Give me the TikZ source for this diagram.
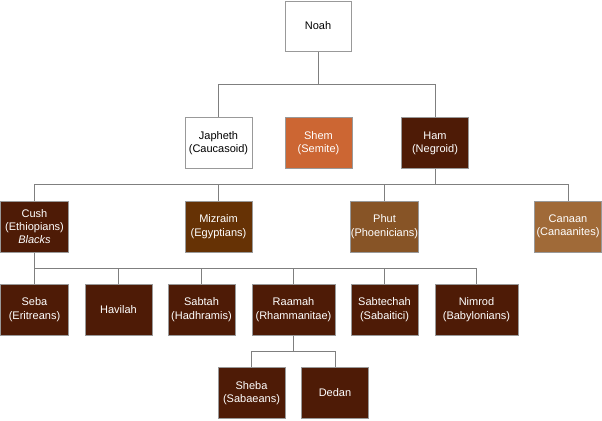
\documentclass[tikz,border=0pt]{standalone}
\usepackage{fontspec}
\setmainfont{Liberation Sans}
\begin{document}
\begin{tikzpicture}[x=1bp,y=-1bp,
  box/.style={draw=boxline,line width=1bp,minimum width=67bp,minimum height=51bp,inner sep=0pt,align=center,font=\fontsize{11bp}{13.3bp}\selectfont},
  wide/.style={box,minimum width=83bp},
  dark/.style={box,fill=darkbrown,text=white},
  link/.style={draw=linegray,line width=1bp}]
\definecolor{boxline}{HTML}{999999}
\definecolor{linegray}{HTML}{7F7F7F}
\definecolor{darkbrown}{HTML}{4E1B06}
\definecolor{shemc}{HTML}{CC6633}
\definecolor{mizc}{HTML}{663205}
\definecolor{phutc}{HTML}{875426}
\definecolor{canc}{HTML}{A06A38}
\useasboundingbox (0,0) rectangle (602,420);
% level 1
\node[box,fill=white,minimum width=66bp,minimum height=50bp] (noah) at (318,26) {Noah};
% level 2
\node[box,fill=white] (japheth) at (218.5,143) {Japheth\\(Caucasoid)};
\node[box,fill=shemc,text=white] (shem) at (318.5,143) {Shem\\(Semite)};
\node[dark] (ham) at (435,143) {Ham\\(Negroid)};
% level 3
\node[dark] (cush) at (34.5,226.5) {Cush\\(Ethiopians)\\\textit{Blacks}};
\node[box,fill=mizc,text=white] (mizraim) at (218.5,226.5) {Mizraim\\(Egyptians)};
\node[box,fill=phutc,text=white] (phut) at (384.5,226.5) {Phut\\(Phoenicians)};
\node[box,fill=canc,text=white] (canaan) at (568,226.5) {Canaan\\(Canaanites)};
% level 4
\node[dark] (seba) at (34.5,309.5) {Seba\\(Eritreans)};
\node[dark] (havilah) at (118.5,309.5) {Havilah};
\node[dark] (sabtah) at (201.5,309.5) {Sabtah\\(Hadhramis)};
\node[dark,minimum width=83bp] (raamah) at (293.5,309.5) {Raamah\\(Rhammanitae)};
\node[dark] (sabtechah) at (384.5,309.5) {Sabtechah\\(Sabaitici)};
\node[dark,minimum width=83bp] (nimrod) at (476.5,309.5) {Nimrod\\(Babylonians)};
% level 5
\node[dark] (sheba) at (251.5,393) {Sheba\\(Sabaeans)};
\node[dark] (dedan) at (335,393) {Dedan};
% connectors
\coordinate (b1) at (318,84);
\coordinate (b2) at (435,184);
\coordinate (b3) at (34.5,268);
\coordinate (b4) at (293.5,351);
\draw[link] (noah.south) -- (b1);
\draw[link] (b1) -| (japheth.north);
\draw[link] (b1) -| (ham.north);
\draw[link] (ham.south) -- (b2);
\draw[link] (b2) -| (cush.north);
\draw[link] (b2) -| (mizraim.north);
\draw[link] (b2) -| (phut.north);
\draw[link] (b2) -| (canaan.north);
\draw[link] (cush.south) -- (b3);
\draw[link] (b3) -- (seba.north);
\draw[link] (b3) -| (havilah.north);
\draw[link] (b3) -| (sabtah.north);
\draw[link] (b3) -| (raamah.north);
\draw[link] (b3) -| (sabtechah.north);
\draw[link] (b3) -| (nimrod.north);
\draw[link] (raamah.south) -- (b4);
\draw[link] (b4) -| (sheba.north);
\draw[link] (b4) -| (dedan.north);
\end{tikzpicture}
\end{document}
